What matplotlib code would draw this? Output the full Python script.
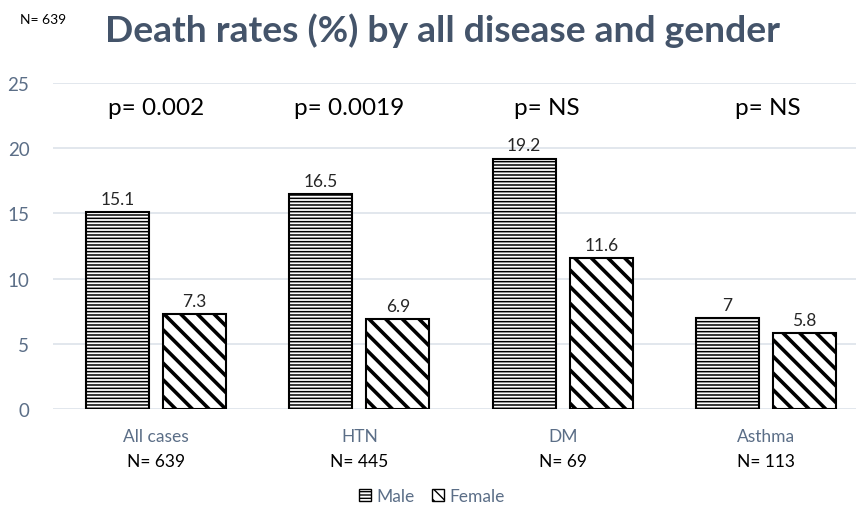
import numpy as np
import matplotlib
matplotlib.use("Agg")
import matplotlib.pyplot as plt
from matplotlib.patches import Patch

# data
categories = ["All cases", "HTN", "DM", "Asthma"]
n_labels = ["N= 639", "N= 445", "N= 69", "N= 113"]
male = [15.1, 16.5, 19.2, 7]
female = [7.3, 6.9, 11.6, 5.8]
p_values = ["p= 0.002", "p= 0.0019", "p= NS", "p= NS"]

plt.rcParams["font.family"] = ["Lato", "DejaVu Sans"]
plt.rcParams["hatch.linewidth"] = 1.0

TITLE_C = "#44546A"
LABEL_C = "#5B6E87"

fig = plt.figure(figsize=(8.56, 5.10), dpi=100, facecolor="white")
ax = fig.add_axes([53 / 856, 100 / 510, 1 - 53 / 856, 326 / 510])

x = np.arange(len(categories))
w = 0.31
off = 0.19

bm = ax.bar(x - off, male, w, color="white", edgecolor="black",
            linewidth=1.5, hatch="-----", zorder=3)
bf = ax.bar(x + off, female, w, color="white", edgecolor="black",
            linewidth=1.5, hatch="\\\\", zorder=3)
for b in bm:
    try:
        b.set_hatch_linewidth(1.1)
    except AttributeError:
        pass
for b in bf:
    try:
        b.set_hatch_linewidth(2.6)
    except AttributeError:
        pass

for xi, v in zip(x - off, male):
    ax.text(xi, v + 0.4, f"{v:g}", ha="center", va="bottom",
            fontsize=12.5, color="#262626")
for xi, v in zip(x + off, female):
    ax.text(xi, v + 0.4, f"{v:g}", ha="center", va="bottom",
            fontsize=12.5, color="#262626")

p_dx = [0.0, -0.05, -0.08, 0.01]
for xi, p, d in zip(x, p_values, p_dx):
    ax.text(xi + d, 23.1, p, ha="center", va="center",
            fontsize=17.5, color="black")

ax.set_xlim(-0.507, 3.443)
ax.set_ylim(0, 25)
ax.set_yticks([0, 5, 10, 15, 20, 25])
ax.yaxis.grid(True, color="#DDE3EA", linewidth=1.2, zorder=0)
ax.set_axisbelow(True)
for s in ax.spines.values():
    s.set_visible(False)
ax.tick_params(axis="y", length=0, labelsize=13.5, labelcolor=LABEL_C, pad=17)
ax.tick_params(axis="x", length=0, labelbottom=False)

for xi, c, n in zip(x, categories, n_labels):
    ax.text(xi, -2.1, c, ha="center", va="center", fontsize=12.5,
            color=LABEL_C)
    ax.text(xi, -4.0, n, ha="center", va="center", fontsize=12.5,
            color="black")

fig.text(105 / 856, 1 - 31 / 510, "Death rates (%) by all disease and gender",
         fontsize=26.8, fontweight="bold", color=TITLE_C, ha="left", va="center")
fig.text(20 / 856, 1 - 20 / 510, "N= 639", fontsize=10, color="black",
         ha="left", va="center")

handles = [Patch(facecolor="white", edgecolor="black", hatch="-----", label="Male"),
           Patch(facecolor="white", edgecolor="black", hatch="\\\\\\", label="Female")]
leg = fig.legend(handles=handles, loc="center", bbox_to_anchor=(432 / 856, 1 - 497 / 510),
                 ncol=2, frameon=False, fontsize=12.5, handlelength=0.7,
                 handleheight=0.7, handletextpad=0.3, columnspacing=1.0)
for t in leg.get_texts():
    t.set_color(LABEL_C)

fig.savefig("out.png", dpi=100, facecolor="white")
